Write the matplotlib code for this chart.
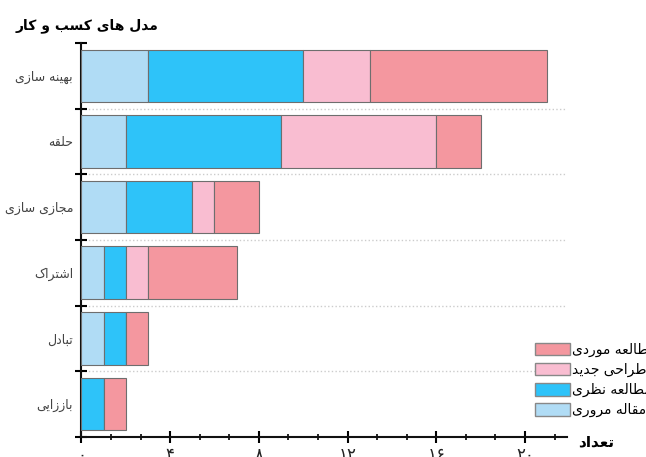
import matplotlib
matplotlib.use("Agg")
import matplotlib.pyplot as plt
from matplotlib.patches import Patch
from matplotlib.ticker import AutoMinorLocator

plt.rcParams["font.family"] = ["DejaVu Sans"]

# --- data ---
categories = ["بهینه سازی", "حلقه", "مجازی سازی", "اشتراک", "تبادل", "باززایی"]
series_names = ["مقاله مروری", "مطالعه نظری", "طراحی جدید", "مطالعه موردی"]
review = [3, 2, 2, 1, 1, 0]
theory = [7, 7, 3, 1, 1, 1]
design = [3, 7, 1, 1, 0, 0]
case = [8, 2, 2, 4, 1, 1]
x_ticks = [0, 4, 8, 12, 16, 20]
x_tick_labels = ["۰", "۴", "۸", "۱۲", "۱۶", "۲۰"]
title = "مدل های کسب و کار"
x_label = "تعداد"

colors = ["#b0dcf5", "#2ec3f9", "#f9bdd1", "#f4979f"]

# matplotlib has no arabic shaping, so pick presentation forms by hand
# (isolated, final, initial, medial); None = letter does not join forward
FORMS = {
    "ا": ("\uFE8D", "\uFE8E", None, None),
    "ب": ("\uFE8F", "\uFE90", "\uFE91", "\uFE92"),
    "ت": ("\uFE95", "\uFE96", "\uFE97", "\uFE98"),
    "ج": ("\uFE9D", "\uFE9E", "\uFE9F", "\uFEA0"),
    "ح": ("\uFEA1", "\uFEA2", "\uFEA3", "\uFEA4"),
    "د": ("\uFEA9", "\uFEAA", None, None),
    "ر": ("\uFEAD", "\uFEAE", None, None),
    "ز": ("\uFEAF", "\uFEB0", None, None),
    "س": ("\uFEB1", "\uFEB2", "\uFEB3", "\uFEB4"),
    "ش": ("\uFEB5", "\uFEB6", "\uFEB7", "\uFEB8"),
    "ط": ("\uFEC1", "\uFEC2", "\uFEC3", "\uFEC4"),
    "ظ": ("\uFEC5", "\uFEC6", "\uFEC7", "\uFEC8"),
    "ع": ("\uFEC9", "\uFECA", "\uFECB", "\uFECC"),
    "ق": ("\uFED5", "\uFED6", "\uFED7", "\uFED8"),
    "ل": ("\uFEDD", "\uFEDE", "\uFEDF", "\uFEE0"),
    "م": ("\uFEE1", "\uFEE2", "\uFEE3", "\uFEE4"),
    "ن": ("\uFEE5", "\uFEE6", "\uFEE7", "\uFEE8"),
    "ه": ("\uFEE9", "\uFEEA", "\uFEEB", "\uFEEC"),
    "و": ("\uFEED", "\uFEEE", None, None),
    "ی": ("\uFBFC", "\uFBFD", "\uFBFE", "\uFBFF"),
    "ک": ("\uFB8E", "\uFB8F", "\uFB90", "\uFB91"),
}


def fa(text):
    out = []
    for i, ch in enumerate(text):
        f = FORMS.get(ch)
        if f is None:
            out.append(ch)
            continue
        prev = text[i - 1] if i > 0 else ""
        nxt = text[i + 1] if i + 1 < len(text) else ""
        join_prev = prev in FORMS and FORMS[prev][2] is not None
        join_next = f[2] is not None and nxt in FORMS
        if join_prev and join_next:
            out.append(f[3])
        elif join_prev:
            out.append(f[1])
        elif join_next:
            out.append(f[2])
        else:
            out.append(f[0])
    return "".join(reversed(out))


fig = plt.figure(figsize=(6.46, 4.57), dpi=100)
ax = fig.add_axes([0.126, 0.044, 0.752, 0.862])

ypos = list(range(len(categories)))
left = [0] * len(categories)
for vals, col in zip([review, theory, design, case], colors):
    ax.barh(ypos, vals, left=left, height=0.8, color=col, edgecolor="#6e6e6e", linewidth=0.8, zorder=3)
    left = [a + b for a, b in zip(left, vals)]

ax.set_ylim(len(categories) - 0.5, -0.5)
ax.set_xlim(0, 21.9)

# row labels sit in the middle, tick marks on the row boundaries
ax.set_yticks(ypos)
ax.set_yticklabels([fa(c) for c in categories], fontsize=9, color="#444444")
ax.tick_params(axis="y", which="major", length=0, pad=6)
ax.set_yticks([i - 0.5 for i in range(len(categories) + 1)], minor=True)
ax.tick_params(axis="y", which="minor", direction="inout", length=9, width=1.5)
for b in range(len(categories) - 1):
    ax.axhline(b + 0.5, color="#cccccc", linestyle=":", linewidth=1.0, zorder=1)

ax.set_xticks(x_ticks)
ax.set_xticklabels(x_tick_labels, fontsize=12, color="#222222")
ax.xaxis.set_minor_locator(AutoMinorLocator(3))
ax.tick_params(axis="x", which="major", direction="inout", length=9, width=1.5, pad=2)
ax.tick_params(axis="x", which="minor", direction="inout", length=5, width=1.2)

for side in ["top", "right"]:
    ax.spines[side].set_visible(False)
for side in ["left", "bottom"]:
    ax.spines[side].set_linewidth(1.5)
    ax.spines[side].set_color("#111111")

fig.text(16 / 646, 1 - 26 / 457, fa(title), fontsize=10, fontweight="bold", va="center", ha="left")
fig.text(578 / 646, 1 - 442 / 457, fa(x_label), fontsize=11, fontweight="bold", va="center", ha="left")

handles = [Patch(facecolor=c, edgecolor="#888888", label=fa(n)) for c, n in zip(colors, series_names)]
fig.legend(handles=handles[::-1], loc="upper left", bbox_to_anchor=(535 / 646, 1 - 343 / 457),
           frameon=False, fontsize=10, handlelength=2.5, handleheight=1.0, labelspacing=0.42,
           handletextpad=0.15, borderpad=0, borderaxespad=0)

fig.savefig("out.png", dpi=100)
